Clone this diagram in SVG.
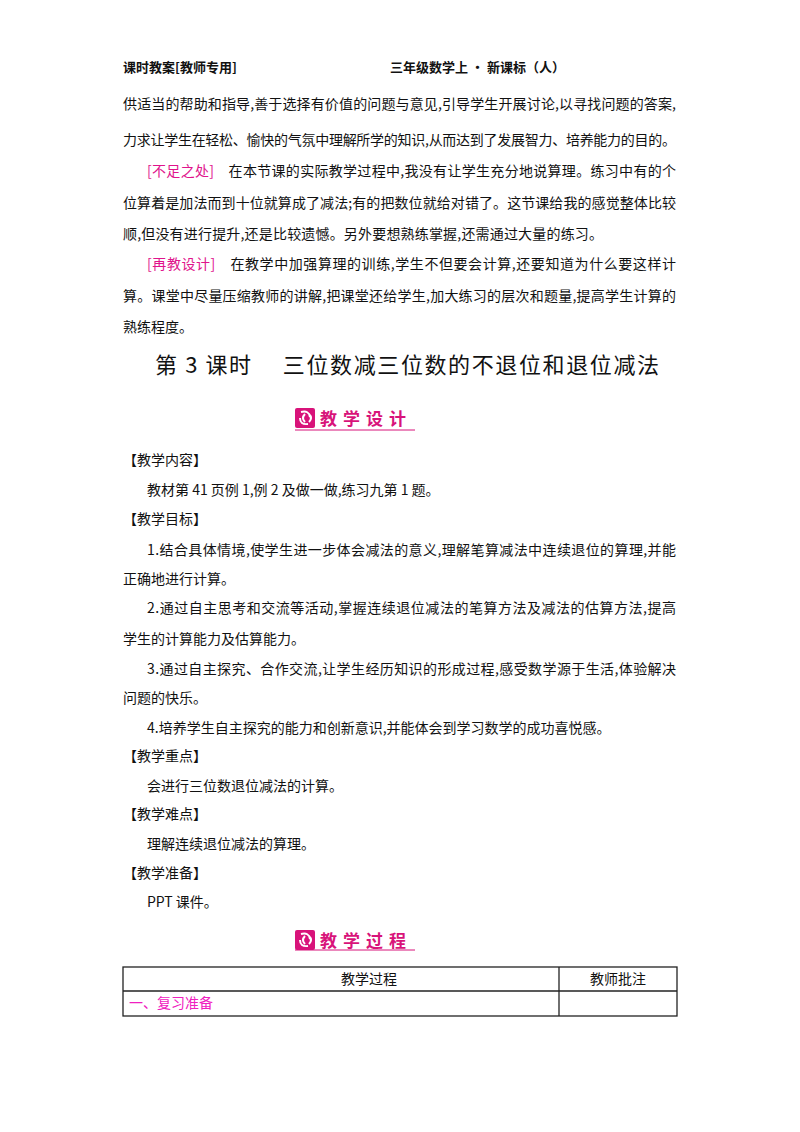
<svg xmlns="http://www.w3.org/2000/svg" width="800" height="1132" viewBox="0 0 800 1132">
<style>
text{font-family:"Noto Sans CJK SC","Liberation Serif",serif;font-size:14px;fill:#111}
.h{font-size:13px;font-weight:bold}
.t{font-size:22px}
.pk{fill:#e0148c}
.m{fill:#f020c0}
.ic{font-size:17px;font-weight:bold;fill:#d8137a}
.tb{fill:none;stroke:#222;stroke-width:1.3}
</style>
<rect width="800" height="1132" fill="#fff"/>
<text class="h" x="123" y="72">课时教案[教师专用]</text>
<text class="h" x="390" y="72">三年级数学上 · 新课标（人）</text>
<text x="123" y="109" textLength="553" lengthAdjust="spacing">供适当的帮助和指导,善于选择有价值的问题与意见,引导学生开展讨论,以寻找问题的答案,</text>
<text x="123" y="145" textLength="553" lengthAdjust="spacing">力求让学生在轻松、愉快的气氛中理解所学的知识,从而达到了发展智力、培养能力的目的。</text>
<text x="147" y="176" textLength="529" lengthAdjust="spacing"><tspan class="pk">[不足之处]</tspan>　在本节课的实际教学过程中,我没有让学生充分地说算理。练习中有的个</text>
<text x="123" y="208" textLength="553" lengthAdjust="spacing">位算着是加法而到十位就算成了减法;有的把数位就给对错了。这节课给我的感觉整体比较</text>
<text x="123" y="239" textLength="480" lengthAdjust="spacing">顺,但没有进行提升,还是比较遗憾。另外要想熟练掌握,还需通过大量的练习。</text>
<text x="147" y="269" textLength="529" lengthAdjust="spacing"><tspan class="pk">[再教设计]</tspan>　在教学中加强算理的训练,学生不但要会计算,还要知道为什么要这样计</text>
<text x="123" y="301" textLength="553" lengthAdjust="spacing">算。课堂中尽量压缩教师的讲解,把课堂还给学生,加大练习的层次和题量,提高学生计算的</text>
<text x="123" y="332">熟练程度。</text>
<text class="t" x="155" y="373" textLength="504" lengthAdjust="spacing">第 3 课时　 三位数减三位数的不退位和退位减法</text>
<g id="icon1">
<rect x="295" y="408" width="20" height="20" rx="2" fill="#d8137a"/>
<path d="M301 412 q8 -2 9 5 M300 418 q0 7 8 6 M305 414 q-4 4 0 8 M309 422 q4 -4 0 -8" fill="none" stroke="#fff" stroke-width="2"/>
<text class="ic" x="320" y="425" textLength="86" lengthAdjust="spacing">教学设计</text>
<line x1="295" y1="430" x2="415" y2="430" stroke="#d8137a" stroke-width="1"/>
</g>
<text x="123" y="465">【教学内容】</text>
<text x="147" y="495">教材第 41 页例 1,例 2 及做一做,练习九第 1 题。</text>
<text x="123" y="524">【教学目标】</text>
<text x="147" y="555" textLength="529" lengthAdjust="spacing">1.结合具体情境,使学生进一步体会减法的意义,理解笔算减法中连续退位的算理,并能</text>
<text x="123" y="584">正确地进行计算。</text>
<text x="147" y="613" textLength="529" lengthAdjust="spacing">2.通过自主思考和交流等活动,掌握连续退位减法的笔算方法及减法的估算方法,提高</text>
<text x="123" y="644">学生的计算能力及估算能力。</text>
<text x="147" y="674" textLength="529" lengthAdjust="spacing">3.通过自主探究、合作交流,让学生经历知识的形成过程,感受数学源于生活,体验解决</text>
<text x="123" y="703">问题的快乐。</text>
<text x="147" y="733">4.培养学生自主探究的能力和创新意识,并能体会到学习数学的成功喜悦感。</text>
<text x="123" y="761">【教学重点】</text>
<text x="147" y="791">会进行三位数退位减法的计算。</text>
<text x="123" y="819">【教学难点】</text>
<text x="147" y="849">理解连续退位减法的算理。</text>
<text x="123" y="878">【教学准备】</text>
<text x="147" y="907">PPT 课件。</text>
<g id="icon2">
<rect x="295" y="930" width="20" height="20" rx="2" fill="#d8137a"/>
<path d="M301 934 q8 -2 9 5 M300 940 q0 7 8 6 M305 936 q-4 4 0 8 M309 944 q4 -4 0 -8" fill="none" stroke="#fff" stroke-width="2"/>
<text class="ic" x="320" y="947" textLength="86" lengthAdjust="spacing">教学过程</text>
<line x1="295" y1="950" x2="415" y2="950" stroke="#d8137a" stroke-width="1"/>
</g>
<g id="table">
<rect class="tb" x="123" y="967" width="554" height="49"/>
<line class="tb" x1="123" y1="991" x2="677" y2="991"/>
<line class="tb" x1="559" y1="967" x2="559" y2="1016"/>
<text x="341" y="984">教学过程</text>
<text x="590" y="984">教师批注</text>
<text class="m" x="129" y="1008">一、复习准备</text>
</g>
</svg>
